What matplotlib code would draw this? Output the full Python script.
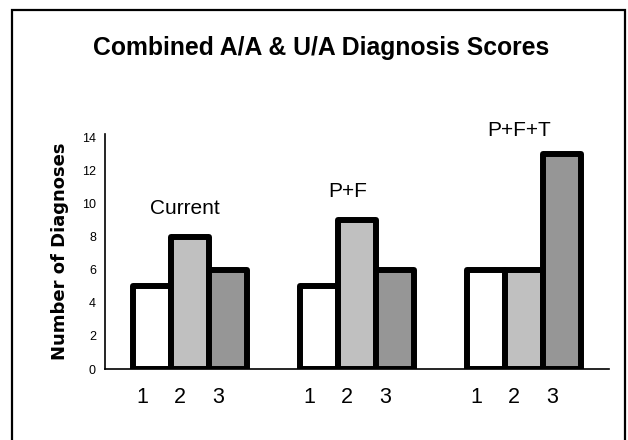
import numpy as np
import matplotlib
matplotlib.use('Agg')
import matplotlib.pyplot as plt
from matplotlib.patches import Rectangle
from matplotlib.transforms import ScaledTranslation

# data
groups = ['Current', 'P+F', 'P+F+T']
scores = ['1', '2', '3']
score_1 = [5, 5, 6]
score_2 = [8, 9, 6]
score_3 = [6, 6, 13]
yticks = [0, 2, 4, 6, 8, 10, 12, 14]

colors = ['#FFFFFF', '#C0C0C0', '#969696']
group_gap = 4.4

plt.rcParams['font.family'] = ['Liberation Sans', 'DejaVu Sans']

fig = plt.figure(figsize=(6.28, 4.40), dpi=100)
fig.patch.set_facecolor('white')

# outer frame around the whole chart
frame = Rectangle((12 / 628, -0.02), (625 - 12) / 628, 1.02 - 10 / 440,
                  transform=fig.transFigure, fill=False, edgecolor='black',
                  linewidth=1.6)
fig.patches.append(frame)

ax = fig.add_axes([105 / 628, 71 / 440, 504 / 628, 235 / 440])

centers = np.arange(len(groups)) * group_gap
series = [score_1, score_2, score_3]
for i, vals in enumerate(series):
    ax.bar(centers + (i - 1), vals, width=1.0, color=colors[i],
           edgecolor='black', linewidth=4.3, joinstyle='round', zorder=3)

ax.set_ylim(0, 14.2)
ax.set_xlim(-2.24, 11.03)
ax.set_yticks(yticks)
ax.set_yticklabels([str(t) for t in yticks], fontsize=9)
ax.tick_params(axis='y', length=0, pad=6.5)

xpos = np.concatenate([centers + (i - 1) for i in range(3)])
xlab = [s for s in scores for _ in groups]
ax.set_xticks(xpos)
ax.set_xticklabels(xlab, fontsize=15.5)
ax.tick_params(axis='x', length=0, pad=13)
shift = ScaledTranslation(-0.10, 0, fig.dpi_scale_trans)
for lab in ax.get_xticklabels():
    lab.set_transform(lab.get_transform() + shift)

for side in ['top', 'right']:
    ax.spines[side].set_visible(False)
ax.spines['left'].set_linewidth(1.2)
ax.spines['bottom'].set_linewidth(1.2)

ax.set_ylabel('Number of Diagnoses', fontsize=13, fontweight='bold',
              family='DejaVu Sans', labelpad=9)

label_y = [9.7, 10.75, 14.4]
label_dx = [-0.13, -0.24, -0.13]
for c, name, ly, dx in zip(centers, groups, label_y, label_dx):
    ax.text(c + dx, ly, name, ha='center', va='center', fontsize=15,
            clip_on=False)

fig.text(321 / 628, 1 - 48 / 440, 'Combined A/A & U/A Diagnosis Scores',
         ha='center', va='center', fontsize=17.8, fontweight='bold')

fig.savefig('out.png', dpi=100)
